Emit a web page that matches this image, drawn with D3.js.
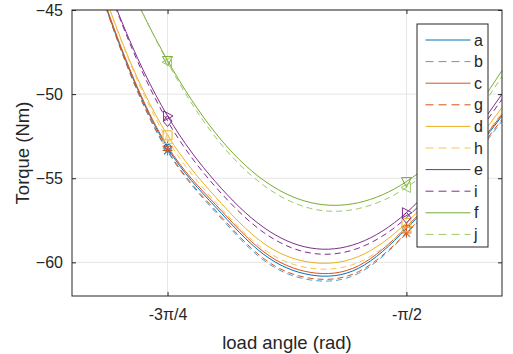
<!DOCTYPE html>
<html>
<head>
<meta charset="utf-8">
<script src="https://cdn.jsdelivr.net/npm/d3@7"></script>
<style>
  body { margin: 0; background: #fff; }
  text { font-family: "Liberation Sans", Arial, sans-serif; fill: #262626; }
</style>
</head>
<body>
<svg width="513" height="354"></svg>
<script>
// load angle samples, in units of pi
const angles = [-0.85, -0.8, -0.75, -0.7, -0.65, -0.6, -0.55, -0.5, -0.45, -0.4]

// torque (Nm) at each angle
const seriesA = [-38.8, -47.1, -53.2, -56.7, -59.5, -60.75, -60.35, -58.0, -54.9, -51.3]
const seriesB = [-38.6, -47.2, -53.4, -57.0, -59.85, -61.05, -60.65, -58.3, -55.2, -51.6]
const seriesC = [-38.7, -47.0, -53.1, -56.55, -59.35, -60.6, -60.2, -57.9, -54.8, -51.2]
const seriesG = [-38.6, -47.15, -53.35, -56.9, -59.75, -60.95, -60.55, -58.25, -55.1, -51.5]
const seriesD = [-38.3, -46.55, -52.45, -56.1, -58.85, -60.0, -59.65, -57.65, -54.5, -50.8]
const seriesH = [-38.2, -46.6, -52.7, -56.4, -59.2, -60.35, -60.0, -57.95, -54.8, -51.1]
const seriesE = [-37.6, -45.4, -51.3, -55.2, -57.9, -59.15, -58.85, -57.05, -53.9, -50.0]
const seriesI = [-37.5, -45.5, -51.6, -55.5, -58.2, -59.45, -59.15, -57.35, -54.2, -50.3]
const seriesF = [-35.6, -42.3, -48.0, -52.3, -55.1, -56.45, -56.45, -55.2, -52.6, -48.6]
const seriesJ = [-35.4, -42.15, -48.1, -52.55, -55.4, -56.8, -56.8, -55.55, -52.95, -48.95]

const names = ['a', 'b', 'c', 'g', 'd', 'h', 'e', 'i', 'f', 'j']
const values = [seriesA, seriesB, seriesC, seriesG, seriesD, seriesH, seriesE, seriesI, seriesF, seriesJ]

// marked angles (-3pi/4 and -pi/2)
const markAngles = [-0.75, -0.5]

const xTicks = [-0.75, -0.5]
const xTickLabels = ['-3\u03c0/4', '-\u03c0/2']
const yTicks = [-60, -55, -50, -45]

const styles = {
  a: {color: '#0072BD', dash: null, marker: 'circle'},
  b: {color: '#4D9FDB', dash: '6,4', marker: 'x'},
  c: {color: '#D95319', dash: null, marker: 'plus'},
  g: {color: '#D95319', dash: '6,4', marker: 'star'},
  d: {color: '#EDB120', dash: null, marker: 'square'},
  h: {color: '#F4C55A', dash: '6,4', marker: 'up'},
  e: {color: '#7E2F8E', dash: null, marker: 'right'},
  i: {color: '#7E2F8E', dash: '6,4', marker: 'diamond'},
  f: {color: '#77AC30', dash: null, marker: 'down'},
  j: {color: '#9FC76A', dash: '6,4', marker: 'left'}
}

const margin = {top: 10, left: 72, right: 11, bottom: 58}
const svg = d3.select('svg')
const width = svg.attr('width') - margin.left - margin.right
const height = svg.attr('height') - margin.top - margin.bottom

const g = svg.append('g')
  .attr('transform', 'translate(' + margin.left + ',' + margin.top + ')')

const xScale = d3.scaleLinear()
  .domain([-0.85 * Math.PI, -0.4 * Math.PI])
  .range([0, width])

const yScale = d3.scaleLinear()
  .domain([-62, -45])
  .range([height, 0])

// grid
g.append('g').selectAll('line.gx')
  .data(xTicks)
  .enter().append('line')
  .attr('x1', d => xScale(d * Math.PI)).attr('x2', d => xScale(d * Math.PI))
  .attr('y1', 0).attr('y2', height)
  .attr('stroke', '#e5e5e5').attr('stroke-width', 1)
g.append('g').selectAll('line.gy')
  .data(yTicks)
  .enter().append('line')
  .attr('x1', 0).attr('x2', width)
  .attr('y1', d => yScale(d)).attr('y2', d => yScale(d))
  .attr('stroke', '#e5e5e5').attr('stroke-width', 1)

svg.append('defs').append('clipPath').attr('id', 'clip')
  .append('rect').attr('width', width).attr('height', height)

const plot = g.append('g').attr('clip-path', 'url(#clip)')

const line = d3.line()
  .x((d, i) => xScale(angles[i] * Math.PI))
  .y(d => yScale(d))
  .curve(d3.curveNatural)

names.forEach((n, k) => {
  plot.append('path')
    .attr('d', line(values[k]))
    .attr('fill', 'none')
    .attr('stroke', styles[n].color)
    .attr('stroke-width', 1)
    .attr('stroke-dasharray', styles[n].dash)
})

const markerPath = (type) => {
  switch (type) {
    case 'circle': return d3.symbol(d3.symbolCircle, 45)()
    case 'x': return 'M-3.5,-3.5L3.5,3.5M-3.5,3.5L3.5,-3.5'
    case 'plus': return 'M-5,0L5,0M0,-5L0,5'
    case 'star': return 'M-5,0L5,0M0,-5L0,5M-3.5,-3.5L3.5,3.5M-3.5,3.5L3.5,-3.5'
    case 'square': return 'M-4.5,-4.5L4.5,-4.5L4.5,4.5L-4.5,4.5Z'
    case 'diamond': return 'M0,-5.5L4.5,0L0,5.5L-4.5,0Z'
    case 'up': return 'M0,-5.5L5,4L-5,4Z'
    case 'down': return 'M0,5.5L5,-4L-5,-4Z'
    case 'right': return 'M5.5,0L-4,5L-4,-5Z'
    case 'left': return 'M-5.5,0L4,5L4,-5Z'
  }
}

names.forEach((n, k) => {
  const pts = markAngles.map(a => ({a: a, v: values[k][angles.indexOf(a)]}))
  plot.append('g').selectAll('path')
    .data(pts)
    .enter().append('path')
    .attr('transform', d => 'translate(' + xScale(d.a * Math.PI) + ',' + yScale(d.v) + ')')
    .attr('d', markerPath(styles[n].marker))
    .attr('fill', 'none')
    .attr('stroke', styles[n].color)
    .attr('stroke-width', 1)
})

// axes, MATLAB style box with inward ticks
const tickLen = 4
g.append('rect')
  .attr('x', 0).attr('y', 0).attr('width', width).attr('height', height)
  .attr('fill', 'none').attr('stroke', '#262626').attr('stroke-width', 1)

g.append('g')
  .attr('transform', 'translate(0,' + height + ')')
  .call(d3.axisBottom(xScale)
    .tickValues(xTicks.map(d => d * Math.PI))
    .tickFormat((d, i) => xTickLabels[i])
    .tickSizeInner(-tickLen).tickSizeOuter(0).tickPadding(13))
  .call(s => s.select('.domain').remove())
  .call(s => s.selectAll('line').attr('stroke', '#262626'))
  .call(s => s.selectAll('text').attr('font-size', 16).attr('fill', '#262626'))

g.append('g')
  .call(d3.axisTop(xScale)
    .tickValues(xTicks.map(d => d * Math.PI))
    .tickFormat('')
    .tickSizeInner(-tickLen).tickSizeOuter(0))
  .call(s => s.select('.domain').remove())
  .call(s => s.selectAll('line').attr('stroke', '#262626'))

g.append('g')
  .call(d3.axisLeft(yScale)
    .tickValues(yTicks)
    .tickFormat(d3.format('d'))
    .tickSizeInner(-tickLen).tickSizeOuter(0).tickPadding(9))
  .call(s => s.select('.domain').remove())
  .call(s => s.selectAll('line').attr('stroke', '#262626'))
  .call(s => s.selectAll('text').attr('font-size', 16).attr('fill', '#262626'))

g.append('g')
  .attr('transform', 'translate(' + width + ',0)')
  .call(d3.axisRight(yScale)
    .tickValues(yTicks)
    .tickFormat('')
    .tickSizeInner(-tickLen).tickSizeOuter(0))
  .call(s => s.select('.domain').remove())
  .call(s => s.selectAll('line').attr('stroke', '#262626'))

// axis titles
svg.append('text')
  .attr('x', margin.left + width / 2).attr('y', 349)
  .attr('text-anchor', 'middle').attr('font-size', 18.5)
  .text('load angle (rad)')

svg.append('text')
  .attr('transform', 'translate(29,' + (margin.top + height / 2) + ') rotate(-90)')
  .attr('text-anchor', 'middle').attr('font-size', 18.5)
  .text('Torque (Nm)')

// legend
const legend = svg.append('g').attr('transform', 'translate(417,24)')
legend.append('rect')
  .attr('width', 71).attr('height', 223)
  .attr('fill', '#fff').attr('stroke', '#262626').attr('stroke-width', 1)

names.forEach((n, k) => {
  const y = 16 + k * 21.6
  legend.append('line')
    .attr('x1', 8.5).attr('x2', 53.5).attr('y1', y).attr('y2', y)
    .attr('stroke', styles[n].color).attr('stroke-width', 1)
    .attr('stroke-dasharray', styles[n].dash ? '8,5' : null)
  legend.append('text')
    .attr('x', 57).attr('y', y + 5.5)
    .attr('font-size', 16)
    .text(n)
})
</script>
</body>
</html>
